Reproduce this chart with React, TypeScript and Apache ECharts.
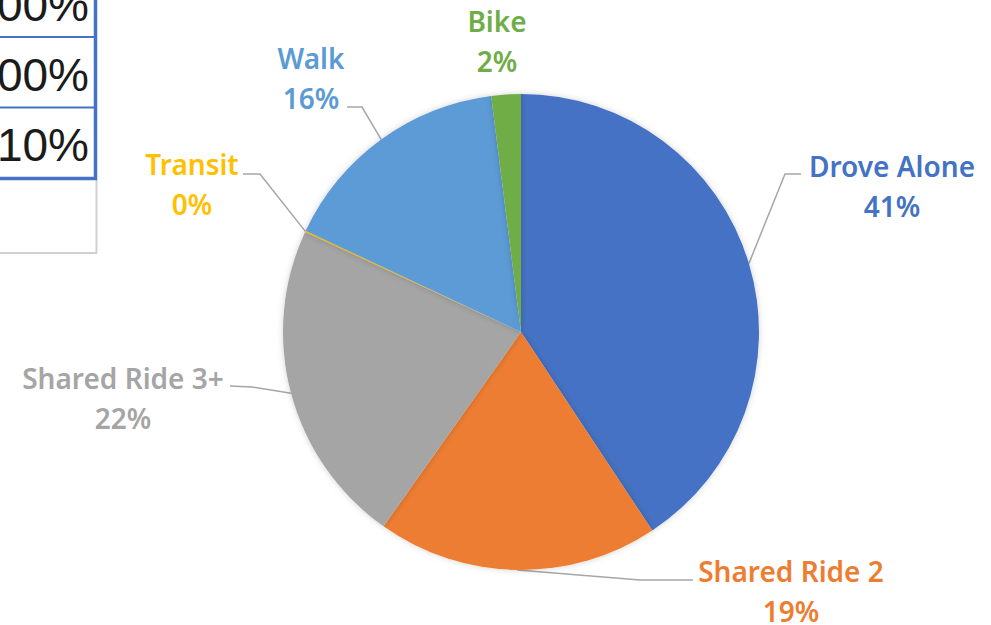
import React, { useEffect, useRef } from "react";
import * as echarts from "echarts";

const categories = ["Drove Alone", "Shared Ride 2", "Shared Ride 3+", "Transit", "Walk", "Bike"];
const shares = [40.7, 19.1, 22.1, 0.1, 16.0, 2.0];
const sliceColors = ["#4472C4", "#ED7D31", "#A5A5A5", "#FFC000", "#5B9BD5", "#70AD47"];
const tableCells = ["00%", "00%", "10%"];

// label placement (style): center of the two-line label, leader bend and end
const labelPlacement = [
  { x: 892, y: 186, bend: [785, 174], end: [801, 174] },
  { x: 791, y: 591, bend: [640, 580], end: [693, 580] },
  { x: 123, y: 398, bend: [252, 387], end: [230, 386] },
  { x: 192, y: 184, bend: [260, 174], end: [243, 174] },
  { x: 311, y: 78, bend: [362, 107], end: [347, 107] },
  { x: 497, y: 41, bend: null, end: null },
];

export default function App() {
  const ref = useRef<HTMLDivElement>(null);
  useEffect(() => {
    document.body.style.margin = "0";
    const chart = echarts.init(ref.current!, undefined, { renderer: "svg" });
    const blue = "#4472C4";
    const rowCenters = [5, 75, 145];
    const graphics: any[] = [];
    graphics.push({ type: "rect", shape: { x: -5, y: -5, width: 101, height: 184 }, style: { fill: "#fff", stroke: null }, z: 1 });
    graphics.push({ type: "line", shape: { x1: 96.5, y1: 180, x2: 96.5, y2: 253 }, style: { stroke: "#d0d0d0", lineWidth: 2 }, z: 2 });
    graphics.push({ type: "line", shape: { x1: 0, y1: 253, x2: 97, y2: 253 }, style: { stroke: "#d0d0d0", lineWidth: 2 }, z: 2 });
    graphics.push({ type: "line", shape: { x1: 0, y1: 37, x2: 95, y2: 37 }, style: { stroke: blue, lineWidth: 2 }, z: 3 });
    graphics.push({ type: "line", shape: { x1: 0, y1: 107.5, x2: 95, y2: 107.5 }, style: { stroke: blue, lineWidth: 2 }, z: 3 });
    graphics.push({ type: "line", shape: { x1: 0, y1: 178.5, x2: 97, y2: 178.5 }, style: { stroke: blue, lineWidth: 3.5 }, z: 3 });
    graphics.push({ type: "line", shape: { x1: 95.5, y1: 0, x2: 95.5, y2: 180 }, style: { stroke: blue, lineWidth: 3.5 }, z: 3 });
    tableCells.forEach((t, i) => {
      graphics.push({
        type: "text",
        x: 89,
        y: rowCenters[i],
        style: {
          text: t,
          fill: "#1b1b1b",
          font: "46px 'Liberation Sans', Arial, sans-serif",
          align: "right",
          verticalAlign: "middle",
        },
        z: 4,
      });
    });

    chart.setOption({
      animation: false,
      graphic: graphics,
      series: [
        {
          type: "pie",
          center: [521, 332],
          radius: [0, 238],
          startAngle: 90,
          clockwise: true,
          avoidLabelOverlap: false,
          itemStyle: { borderWidth: 0, shadowBlur: 6, shadowColor: "rgba(0,0,0,0.18)" },
          label: {
            show: true,
            position: "outside",
            fontFamily: "'Noto Sans', 'DejaVu Sans', sans-serif",
            fontWeight: 600,
            fontSize: 28,
            lineHeight: 40,
            align: "center",
            formatter: (p: any) => `${p.name}\n${Math.round(p.percent)}%`,
          },
          labelLine: {
            show: true,
            length: 20,
            length2: 20,
            smooth: false,
            lineStyle: { color: "#A6A6A6", width: 1.5 },
          },
          labelLayout: (params: any) => {
            const pl = labelPlacement[params.dataIndex];
            const out: any = { x: pl.x, y: pl.y, align: "center", verticalAlign: "middle" };
            if (pl.bend && params.labelLinePoints) {
              out.labelLinePoints = [params.labelLinePoints[0], pl.bend, pl.end];
            }
            return out;
          },
          data: categories.map((name, i) => ({
            name,
            value: shares[i],
            itemStyle: { color: sliceColors[i] },
            label: { color: sliceColors[i] },
            labelLine: { show: labelPlacement[i].bend !== null },
          })),
        },
      ],
    });
    return () => chart.dispose();
  }, []);
  return <div ref={ref} style={{ width: 991, height: 625 }} />;
}
